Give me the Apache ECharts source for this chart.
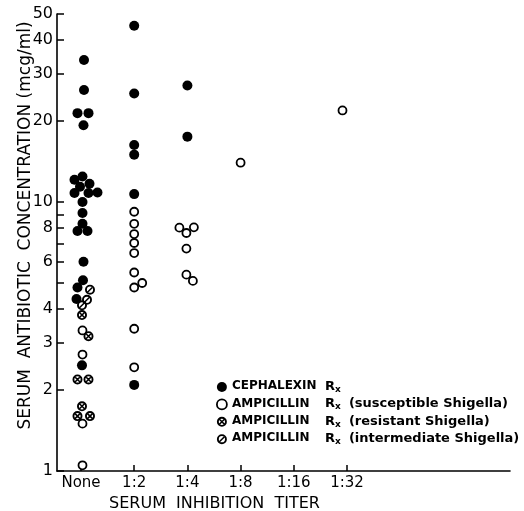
<!DOCTYPE html>
<html>
<head>
<meta charset="utf-8">
<script src="https://cdn.jsdelivr.net/npm/echarts@6.0.0/dist/echarts.min.js"></script>
<style>
  html, body { margin: 0; padding: 0; background: #fff; }
  #chart { width: 524px; height: 511px; }
</style>
</head>
<body>
<div id="chart"></div>
<script>
// titer categories on the x axis
var titers = ['None', '1:2', '1:4', '1:8', '1:16', '1:32'];

// y axis ticks / labels (mcg/ml, log scale)
var yTicks = [1, 2, 3, 4, 5, 6, 7, 8, 9, 10, 20, 30, 40, 50];
var yLabels = [1, 2, 3, 4, 6, 8, 10, 20, 30, 40, 50];

// each point: [titer, concentration, dodge slot (side-by-side overlap)]
var cephalexin = [
    ['None', 33.7, 0.6], ['None', 26.1, 0.6], ['None', 21.4, -0.7], ['None', 21.4, 1.5],
    ['None', 19.3, 0.5], ['None', 12.45, 0.3], ['None', 12.1, -1.3], ['None', 11.7, 1.7],
    ['None', 11.4, -0.2], ['None', 10.8, -1.3], ['None', 10.8, 1.5], ['None', 10.85, 3.3],
    ['None', 10.0, 0.3], ['None', 9.1, 0.3], ['None', 8.3, 0.3], ['None', 7.8, -0.7],
    ['None', 7.8, 1.3], ['None', 6.0, 0.5], ['None', 5.12, 0.4], ['None', 4.81, -0.7],
    ['None', 4.36, -0.9], ['None', 2.47, 0.2],
    ['1:2', 45.2, 0], ['1:2', 25.3, 0], ['1:2', 16.3, 0], ['1:2', 15.0, 0],
    ['1:2', 10.7, 0], ['1:2', 2.09, 0],
    ['1:4', 27.1, 0], ['1:4', 17.5, 0]
];
var ampSusceptible = [
    ['None', 3.33, 0.3], ['None', 2.71, 0.3], ['None', 1.50, 0.3], ['None', 1.05, 0.3],
    ['1:2', 9.2, 0], ['1:2', 8.3, 0], ['1:2', 7.6, 0], ['1:2', 7.04, 0], ['1:2', 6.46, 0],
    ['1:2', 5.47, 0], ['1:2', 4.81, 0], ['1:2', 5.0, 1.6], ['1:2', 3.38, 0], ['1:2', 2.43, 0],
    ['1:4', 8.03, -1.6], ['1:4', 7.67, -0.2], ['1:4', 8.05, 1.3], ['1:4', 6.71, -0.2],
    ['1:4', 5.37, -0.2], ['1:4', 5.09, 1.1],
    ['1:8', 14.0, 0],
    ['1:32', 21.9, -0.9]
];
var ampResistant = [
    ['None', 3.8, 0.2], ['None', 3.17, 1.5], ['None', 2.19, -0.7], ['None', 2.19, 1.5],
    ['None', 1.74, 0.2], ['None', 1.60, -0.7], ['None', 1.60, 1.8]
];
var ampIntermediate = [
    ['None', 4.72, 1.8], ['None', 4.33, 1.2], ['None', 4.13, 0.2]
];

var DODGE = 0.094; // one dodge slot in category units

// circle with a cross / with a slash, drawn as filled shapes (ring + bars)
var RING = 'M100,50A50,50 0 1,1 0,50A50,50 0 1,1 100,50Z M81,50A31,31 0 1,0 19,50A31,31 0 1,0 81,50Z';
var BAR_DOWN = 'M33,22L78,67L67,78L22,33Z';
var BAR_UP = 'M22,67L67,22L78,33L33,78Z';
var SYM_RESIST = 'path://' + RING + ' ' + BAR_DOWN + ' ' + BAR_UP;
var SYM_INTER = 'path://' + RING + ' ' + BAR_UP;

var FONT = 'DejaVu Sans';

function toPoints(arr) {
    return arr.map(function (p) {
        return [titers.indexOf(p[0]) + p[2] * DODGE, p[1]];
    });
}

var names = [
    'CEPHALEXIN',
    'AMPICILLIN|(susceptible Shigella)',
    'AMPICILLIN|(resistant Shigella)',
    'AMPICILLIN|(intermediate Shigella)'
];

var myChart = echarts.init(document.getElementById('chart'), null, { renderer: 'canvas' });

var option = {
    animation: false,
    backgroundColor: '#fff',
    grid: { left: 57, right: 14, top: 14, bottom: 40, outerBoundsMode: 'none' },
    legend: {
        orient: 'vertical',
        left: 216,
        top: 379,
        padding: 0,
        itemWidth: 10,
        itemHeight: 10,
        itemGap: 2.4,
        selectedMode: false,
        data: [
            { name: names[0], icon: 'circle', itemStyle: { color: '#000', borderWidth: 0 } },
            { name: names[1], icon: 'circle', itemStyle: { color: '#fff', borderColor: '#000', borderWidth: 1.8 } },
            { name: names[2], icon: SYM_RESIST, itemStyle: { color: '#000', borderWidth: 0 } },
            { name: names[3], icon: SYM_INTER, itemStyle: { color: '#000', borderWidth: 0 } }
        ],
        formatter: function (name) {
            var parts = name.split('|');
            var s = '{d|' + parts[0] + '}{r|R}{x|x}';
            if (parts[1]) s += '{p|' + parts[1] + '}';
            return s;
        },
        textStyle: {
            color: '#000',
            rich: {
                d: { fontFamily: FONT, fontWeight: 'bold', fontSize: 12, width: 93, lineHeight: 14, verticalAlign: 'top' },
                r: { fontFamily: FONT, fontWeight: 'bold', fontSize: 13, lineHeight: 14, verticalAlign: 'top' },
                x: { fontFamily: FONT, fontWeight: 'bold', fontSize: 9, lineHeight: 10, padding: [6, 0, 0, 0], width: 14, verticalAlign: 'bottom' },
                p: { fontFamily: FONT, fontWeight: 'bold', fontSize: 13, lineHeight: 14, verticalAlign: 'top' }
            }
        }
    },
    xAxis: {
        type: 'value',
        min: -0.451,
        max: 8.064,
        name: 'SERUM  INHIBITION  TITER',
        nameLocation: 'middle',
        nameGap: 25,
        nameMoveOverlap: false,
        nameTextStyle: { fontFamily: FONT, fontSize: 16, color: '#000', padding: [0, 138, 0, 0] },
        splitLine: { show: false },
        axisLine: { onZero: false, lineStyle: { color: '#000', width: 1.6 } },
        axisTick: {
            inside: true, length: 6,
            customValues: [0, 1, 2, 3, 4, 5],
            lineStyle: { color: '#000', width: 1.5 }
        },
        axisLabel: {
            customValues: [0, 1, 2, 3, 4, 5],
            formatter: function (v) { return titers[Math.round(v)]; },
            fontFamily: FONT, fontSize: 15, color: '#000', margin: 5
        }
    },
    yAxis: {
        type: 'log',
        logBase: 10,
        min: 1,
        max: 50,
        name: 'SERUM  ANTIBIOTIC  CONCENTRATION (mcg/ml)',
        nameLocation: 'middle',
        nameGap: 23,
        nameMoveOverlap: false,
        nameRotate: 90,
        nameTextStyle: { fontFamily: FONT, fontSize: 17, color: '#000', padding: [0, 0, 0, 34] },
        splitLine: { show: false },
        axisLine: { onZero: false, lineStyle: { color: '#000', width: 1.6 } },
        axisTick: {
            inside: true, length: 7,
            customValues: yTicks,
            lineStyle: { color: '#000', width: 1.5 }
        },
        axisLabel: {
            customValues: yLabels,
            formatter: function (v) { return String(Math.round(v)); },
            fontFamily: FONT, fontSize: 16, color: '#000', margin: 4
        }
    },
    series: [
        {
            name: names[0],
            type: 'scatter',
            symbol: 'circle',
            symbolSize: 10,
            itemStyle: { color: '#000', opacity: 1 },
            data: toPoints(cephalexin)
        },
        {
            name: names[1],
            type: 'scatter',
            symbol: 'circle',
            symbolSize: 8,
            itemStyle: { color: '#fff', borderColor: '#000', borderWidth: 1.8, opacity: 1 },
            data: toPoints(ampSusceptible)
        },
        {
            name: names[2],
            type: 'scatter',
            symbol: SYM_RESIST,
            symbolSize: 10,
            itemStyle: { color: '#000', opacity: 1 },
            data: toPoints(ampResistant)
        },
        {
            name: names[3],
            type: 'scatter',
            symbol: SYM_INTER,
            symbolSize: 10,
            itemStyle: { color: '#000', opacity: 1 },
            data: toPoints(ampIntermediate)
        }
    ]
};

myChart.setOption(option);
</script>
</body>
</html>
